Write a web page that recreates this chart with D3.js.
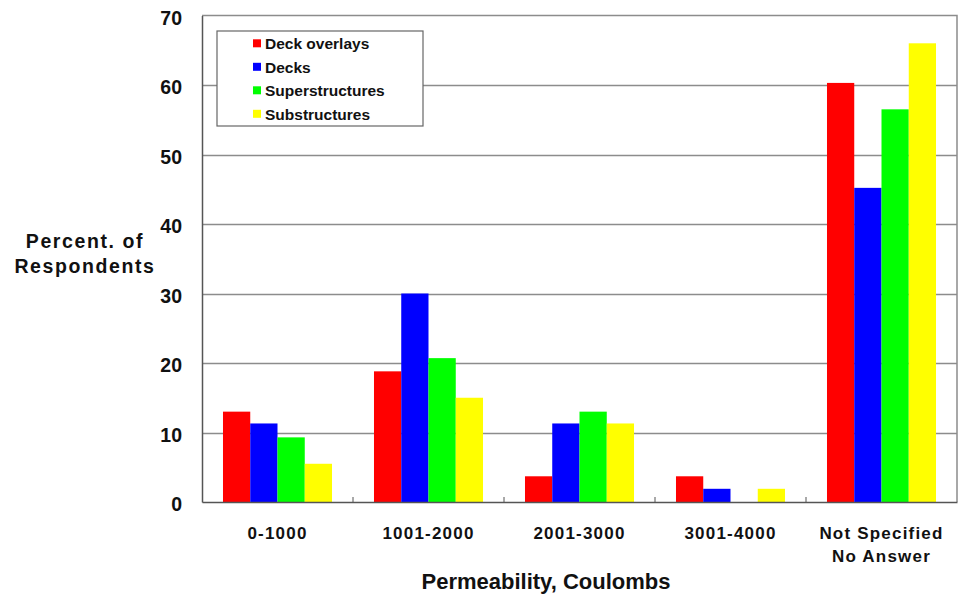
<!DOCTYPE html>
<html>
<head>
<meta charset="utf-8">
<script src="https://cdn.jsdelivr.net/npm/d3@7"></script>
<style>
  html, body { margin: 0; padding: 0; background: #fff; }
  svg { display: block; font-family: "Liberation Sans", Arial, sans-serif; }
</style>
</head>
<body>
<svg id="chart" width="964" height="595"></svg>
<script>
// Permeability ranges (coulombs) and share of respondents per element type
const categories = ["0-1000", "1001-2000", "2001-3000", "3001-4000", "Not Specified\nNo Answer"];
const seriesNames = ["Deck overlays", "Decks", "Superstructures", "Substructures"];
const seriesColors = ["#ff0000", "#0000ff", "#00ff00", "#ffff00"];
const deckOverlays = [13.0, 18.8, 3.7, 3.7, 60.3];
const decks = [11.3, 30.0, 11.3, 1.9, 45.2];
const superstructures = [9.3, 20.7, 13.0, 0, 56.5];
const substructures = [5.5, 15.0, 11.3, 1.9, 66.0];
const yTicks = [0, 10, 20, 30, 40, 50, 60, 70];

const seriesValues = [deckOverlays, decks, superstructures, substructures];

const svg = d3.select("#chart");
const plot = { left: 202, right: 957, top: 15.5, bottom: 502 };

const x = d3.scaleBand().domain(categories).range([plot.left, plot.right]).paddingInner(0).paddingOuter(0);
const xInner = d3.scaleBand().domain(seriesNames).range([0, x.bandwidth()]).paddingInner(0).paddingOuter(0.77);
const y = d3.scaleLinear().domain([0, 70]).range([plot.bottom, plot.top]);

// horizontal gridlines
svg.append("g")
  .selectAll("line")
  .data(yTicks.filter(t => t > 0 && t < 70))
  .join("line")
  .attr("x1", plot.left).attr("x2", plot.right)
  .attr("y1", d => Math.round(y(d)) + 0.5).attr("y2", d => Math.round(y(d)) + 0.5)
  .attr("stroke", "#8c8c8c").attr("stroke-width", 1.3);

// plot frame: top and right in grey
svg.append("path")
  .attr("d", `M${plot.left},${plot.top}H${plot.right}V${plot.bottom}`)
  .attr("fill", "none").attr("stroke", "#8c8c8c").attr("stroke-width", 1.5);

// bars
const groups = svg.append("g")
  .selectAll("g")
  .data(categories)
  .join("g")
  .attr("transform", d => `translate(${x(d)},0)`);

groups.selectAll("rect")
  .data((d, i) => seriesNames.map((s, j) => ({ s, j, v: seriesValues[j][i] })))
  .join("rect")
  .attr("x", d => xInner(d.s))
  .attr("width", xInner.bandwidth())
  .attr("y", d => y(d.v))
  .attr("height", d => y(0) - y(d.v))
  .attr("fill", d => seriesColors[d.j]);

// y axis
const yAxis = d3.axisLeft(y).tickValues(yTicks).tickSize(0).tickPadding(20).tickFormat(d3.format("d"));
const gy = svg.append("g").attr("transform", `translate(${plot.left},0)`).call(yAxis);
gy.select(".domain").attr("stroke", "#555").attr("stroke-width", 1.5);
gy.selectAll("text").attr("font-size", 19.5).attr("font-weight", "bold").attr("fill", "#111").attr("dy", "0.46em");

// x axis
const xAxis = d3.axisBottom(x).tickSize(0).tickFormat("");
const gx = svg.append("g").attr("transform", `translate(0,${plot.bottom})`).call(xAxis);
gx.select(".domain").attr("stroke", "#555").attr("stroke-width", 1.5);

// small upward tick marks between categories
svg.append("g")
  .selectAll("line")
  .data(categories.slice(1))
  .join("line")
  .attr("x1", d => x(d)).attr("x2", d => x(d))
  .attr("y1", plot.bottom).attr("y2", plot.bottom - 5)
  .attr("stroke", "#555").attr("stroke-width", 1);

// category labels
const catLabels = svg.append("g")
  .selectAll("text")
  .data(categories)
  .join("text")
  .attr("x", d => x(d) + x.bandwidth() / 2)
  .attr("y", 538.5)
  .attr("text-anchor", "middle")
  .attr("font-size", 17).attr("letter-spacing", 1.2)
  .attr("font-weight", "bold").attr("fill", "#111");
catLabels.selectAll("tspan")
  .data(d => d.split("\n"))
  .join("tspan")
  .attr("x", function () { return d3.select(this.parentNode).attr("x"); })
  .attr("dy", (d, i) => i === 0 ? 0 : 23.5)
  .text(d => d);

// axis titles
svg.append("text")
  .attr("x", 546).attr("y", 589)
  .attr("text-anchor", "middle")
  .attr("font-size", 22).attr("font-weight", "bold").attr("fill", "#111")
  .text("Permeability, Coulombs");

const yTitle = svg.append("text")
  .attr("text-anchor", "middle")
  .attr("font-size", 19.5).attr("letter-spacing", 1.6)
  .attr("font-weight", "bold").attr("fill", "#111");
yTitle.append("tspan").attr("x", 85).attr("y", 248.3).text("Percent. of");
yTitle.append("tspan").attr("x", 85).attr("y", 273.3).text("Respondents");

// legend
const legend = svg.append("g").attr("transform", "translate(217,31)");
legend.append("rect")
  .attr("width", 206).attr("height", 95)
  .attr("fill", "#fff").attr("stroke", "#666").attr("stroke-width", 1.2);
const items = legend.selectAll("g.item")
  .data(seriesNames)
  .join("g")
  .attr("class", "item")
  .attr("transform", (d, i) => `translate(36,${8.3 + i * 23.5})`);
items.append("rect")
  .attr("width", 8).attr("height", 8)
  .attr("fill", (d, i) => seriesColors[i]);
items.append("text")
  .attr("x", 12).attr("y", 10)
  .attr("font-size", 15.5).attr("font-weight", "bold").attr("fill", "#111")
  .text(d => d);
</script>
</body>
</html>
